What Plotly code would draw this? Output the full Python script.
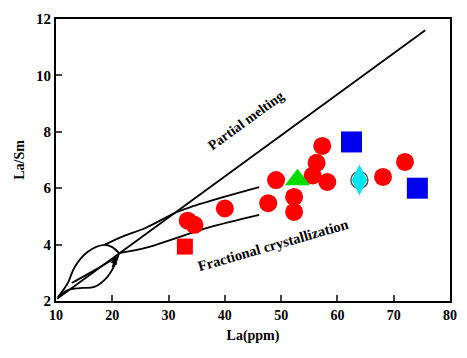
import plotly.graph_objects as go

# ---- data ----
red_circle_x = [33.4, 34.6, 40.0, 47.7, 49.1, 52.3, 52.3, 57.3, 56.3, 55.6, 58.2, 68.1, 72.0]
red_circle_y = [4.85, 4.70, 5.28, 5.47, 6.29, 5.69, 5.16, 7.50, 6.90, 6.45, 6.22, 6.40, 6.93]
red_square_x = [32.9]
red_square_y = [3.93]
blue_square_x = [62.5, 74.2]
blue_square_y = [7.64, 6.00]
green_tri_x = [52.9]
green_tri_y = [6.30]
cyan_dia_x = [63.9]
cyan_dia_y = [6.29]

pm_x = [10.2, 75.6]
pm_y = [2.08, 11.6]

leaf_up_x = [10.35, 12.1, 13.3, 15.6, 18.6, 19.9, 21.2]
leaf_up_y = [2.14, 2.64, 3.20, 3.74, 3.99, 3.92, 3.70]
leaf_lo_x = [10.35, 12.1, 14.2, 16.8, 19.1, 20.6, 21.2]
leaf_lo_y = [2.14, 2.39, 2.46, 2.50, 2.85, 3.35, 3.70]
leaf_in_x = [12.8, 16.5, 20.8]
leaf_in_y = [2.64, 3.05, 3.56]

fc_upper_x = [18.6, 22.0, 25.9, 31.1, 33.9, 40.0, 46.1]
fc_upper_y = [3.99, 4.30, 4.59, 5.12, 5.33, 5.70, 6.04]
fc_lower_x = [21.2, 25.9, 31.3, 36.9, 46.1]
fc_lower_y = [3.70, 3.88, 4.23, 4.59, 5.05]

x_ticks = [10, 20, 30, 40, 50, 60, 70, 80]
y_ticks = [2, 4, 6, 8, 10, 12]

fig = go.Figure()
line_style = dict(color="black", width=1.8)
for xs, ys in [(pm_x, pm_y), (leaf_up_x, leaf_up_y), (leaf_lo_x, leaf_lo_y),
               (leaf_in_x, leaf_in_y), (fc_upper_x, fc_upper_y), (fc_lower_x, fc_lower_y)]:
    fig.add_trace(go.Scatter(x=xs, y=ys, mode="lines", line=dict(shape="spline", **line_style),
                             showlegend=False, hoverinfo="skip"))

fig.add_trace(go.Scatter(x=red_square_x, y=red_square_y, mode="markers",
                         marker=dict(symbol="square", size=16, color="#ff0000", line=dict(width=0))))
fig.add_trace(go.Scatter(x=red_circle_x, y=red_circle_y, mode="markers",
                         marker=dict(symbol="circle", size=18, color="#ff0000", line=dict(width=0))))
fig.add_trace(go.Scatter(x=blue_square_x, y=blue_square_y, mode="markers",
                         marker=dict(symbol="square", size=21, color="#0000ee", line=dict(width=0))))
fig.add_trace(go.Scatter(x=green_tri_x, y=green_tri_y, mode="markers",
                         marker=dict(symbol="triangle-up", size=22, color="#00dd00", line=dict(width=0))))
fig.add_trace(go.Scatter(x=cyan_dia_x, y=cyan_dia_y, mode="markers",
                         marker=dict(symbol="circle", size=17, color="rgba(0,0,0,0)",
                                     line=dict(width=1.5, color="#555555"))))
fig.add_trace(go.Scatter(x=cyan_dia_x, y=cyan_dia_y, mode="markers",
                         marker=dict(symbol="diamond-tall", size=22, color="#00e5ee", line=dict(width=0))))

fig.add_annotation(x=20.7, y=3.55, ax=19.9, ay=3.15, axref="x", ayref="y", xref="x", yref="y",
                   showarrow=True, arrowhead=2, arrowsize=1, arrowwidth=1.4, arrowcolor="black", text="")

tfont = dict(family="Liberation Serif", size=14, color="black", weight="bold")
yfont = dict(family="Liberation Serif", size=15, color="black", weight="bold")
fig.add_annotation(x=43.8, y=8.4, text="Partial melting", showarrow=False, textangle=-36,
                   font=dict(family="Liberation Serif", size=14, color="black", weight="bold"))
fig.add_annotation(x=48.6, y=4.0, text="Fractional crystallization", showarrow=False, textangle=-16,
                   font=dict(family="Liberation Serif", size=14.5, color="black", weight="bold"))

fig.update_layout(
    width=467, height=358, margin=dict(l=56, r=10, t=19, b=57),
    paper_bgcolor="white", plot_bgcolor="white", showlegend=False,
)
fig.update_xaxes(range=[10, 80], tickvals=x_ticks, ticks="inside", ticklen=6, tickwidth=2,
                 showline=True, linecolor="black", linewidth=2, mirror=True, showgrid=False,
                 zeroline=False, tickfont=tfont,
                 title=dict(text="La(ppm)", font=tfont, standoff=8))
fig.update_yaxes(range=[2, 12], tickvals=y_ticks, ticks="inside", ticklen=6, tickwidth=2,
                 showline=True, linecolor="black", linewidth=2, mirror=True, showgrid=False,
                 zeroline=False, tickfont=yfont,
                 title=dict(text="La/Sm", font=tfont, standoff=8))

fig.write_html("out.html")
